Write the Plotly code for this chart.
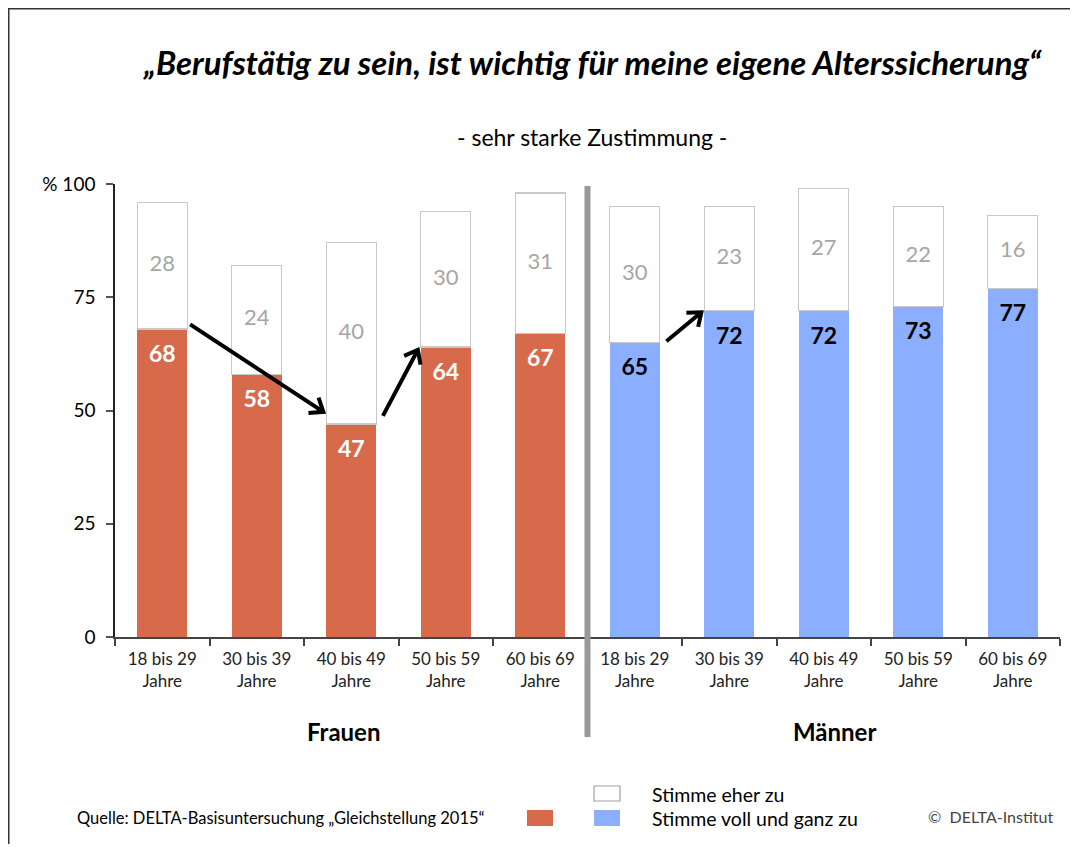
import math
import plotly.graph_objects as go

# ---------------- data ----------------
age_groups = ["18 bis 29<br>Jahre", "30 bis 39<br>Jahre", "40 bis 49<br>Jahre",
              "50 bis 59<br>Jahre", "60 bis 69<br>Jahre"]
frauen_voll = [68, 58, 47, 64, 67]
frauen_eher = [28, 24, 40, 30, 31]
maenner_voll = [65, 72, 72, 73, 77]
maenner_eher = [30, 23, 27, 22, 16]
y_tick_vals = [0, 25, 50, 75, 100]
y_tick_text = ["0", "25", "50", "75", "% 100"]

title_text = "„Berufstätig zu sein, ist wichtig für meine eigene Alterssicherung“"
subtitle_text = "- sehr starke Zustimmung -"
source_text = "Quelle: DELTA-Basisuntersuchung „Gleichstellung 2015“"
copyright_text = "©  DELTA-Institut"
legend_eher = "Stimme eher zu"
legend_voll = "Stimme voll und ganz zu"

# ---------------- styling ----------------
RED = "#D86A4C"
BLUE = "#8CAEFF"
FONT = "Lato"
OFF = 8                      # page body margin
W, H = 1062, 836
# plot area in screen pixels
SX0, SX1, SY0, SY1 = 115, 1060, 184, 637
ML = SX0 - OFF
MR = W - (SX1 - OFF)
MT = SY0 - OFF
MB = H - (SY1 - OFF)
PW, PH = SX1 - SX0, SY1 - SY0

labels = age_groups + age_groups
voll = frauen_voll + maenner_voll
eher = frauen_eher + maenner_eher
xs = list(range(len(labels)))
colors = [RED] * len(frauen_voll) + [BLUE] * len(maenner_voll)
bw = 0.53
Y_MAX = 100


def px(x):  # screen pixel x -> paper
    return (x - SX0) / PW


def py(y):  # screen pixel y -> paper
    return (SY1 - y) / PH


def data_to_screen(x, y):
    return SX0 + (x + 0.5) * PW / len(labels), SY1 - y * PH / Y_MAX


fig = go.Figure()
fig.add_trace(go.Bar(x=xs, y=voll, width=bw, marker=dict(color=colors, line=dict(width=0)),
                     hoverinfo="skip", showlegend=False))
fig.add_trace(go.Bar(x=xs, y=eher, base=voll, width=bw,
                     marker=dict(color="white", line=dict(color="#C8C8C8", width=1.2)),
                     hoverinfo="skip", showlegend=False))

# value labels
fig.add_trace(go.Scatter(x=xs, y=[v - 6 for v in voll], mode="text",
                         text=[f"<b>{v}</b>" for v in voll],
                         textfont=dict(family=FONT, size=23,
                                       color=["white"] * len(frauen_voll) + ["black"] * len(maenner_voll)),
                         hoverinfo="skip", showlegend=False, cliponaxis=False))
fig.add_trace(go.Scatter(x=xs, y=[v + e / 2 for v, e in zip(voll, eher)], mode="text",
                         text=[str(e) for e in eher],
                         textfont=dict(family=FONT, size=22, color="#A6A6A6"),
                         hoverinfo="skip", showlegend=False, cliponaxis=False))

shapes = []

# arrows with open chevron heads (positions derived from bars)
half = bw / 2
arrows = [
    ((0 + half + 0.03, voll[0] + 1), (2 - half - 0.03, voll[2] + 2.7)),
    ((2 + half + 0.07, voll[2] + 1.8), (3 - half - 0.03, voll[3] - 0.6)),
    ((5 + half + 0.07, voll[5] + 0.3), (6 - half - 0.03, voll[6] - 0.3)),
]
HEAD_LEN, HEAD_ANG = 15, math.radians(38)
for (tx, ty), (hx, hy) in arrows:
    x0, y0 = data_to_screen(tx, ty)
    x1, y1 = data_to_screen(hx, hy)
    ang = math.atan2(y0 - y1, x0 - x1)
    ax_ = x1 + HEAD_LEN * math.cos(ang + HEAD_ANG)
    ay_ = y1 + HEAD_LEN * math.sin(ang + HEAD_ANG)
    bx_ = x1 + HEAD_LEN * math.cos(ang - HEAD_ANG)
    by_ = y1 + HEAD_LEN * math.sin(ang - HEAD_ANG)
    path = (f"M {px(x0)},{py(y0)} L {px(x1)},{py(y1)} "
            f"M {px(ax_)},{py(ay_)} L {px(x1)},{py(y1)} L {px(bx_)},{py(by_)}")
    shapes.append(dict(type="path", xref="paper", yref="paper", path=path,
                       line=dict(color="black", width=4), layer="above"))

# divider between groups
shapes.append(dict(type="line", xref="x", yref="paper", x0=4.5, x1=4.5, y0=py(737), y1=py(186),
                   line=dict(color="#999999", width=6)))
# outer frame (left and top edges)
shapes.append(dict(type="line", xref="paper", yref="paper", x0=px(OFF + 0.5), x1=px(OFF + 0.5),
                   y0=py(OFF + H), y1=py(OFF - 0.5), line=dict(color="#333333", width=2)))
shapes.append(dict(type="line", xref="paper", yref="paper", x0=px(OFF - 0.5), x1=px(OFF + W),
                   y0=py(OFF + 0.5), y1=py(OFF + 0.5), line=dict(color="#333333", width=2)))
# legend swatches
shapes.append(dict(type="rect", xref="paper", yref="paper", x0=px(594), x1=px(620), y0=py(801), y1=py(786),
                   line=dict(color="#A0A0A0", width=1.2), fillcolor="white"))
shapes.append(dict(type="rect", xref="paper", yref="paper", x0=px(527), x1=px(553), y0=py(826), y1=py(810),
                   line=dict(width=0), fillcolor=RED))
shapes.append(dict(type="rect", xref="paper", yref="paper", x0=px(594), x1=px(620), y0=py(826), y1=py(810),
                   line=dict(width=0), fillcolor=BLUE))

ann = [
    dict(text=f"<b><i>{title_text}</i></b>", x=px(592), y=py(62), font=dict(size=33)),
    dict(text=subtitle_text, x=px(592), y=py(137), font=dict(size=23)),
    dict(text="<b>Frauen</b>", x=px(343), y=py(731), font=dict(size=24)),
    dict(text="<b>Männer</b>", x=px(834), y=py(731), font=dict(size=24)),
    dict(text=source_text, x=px(75), y=py(818), xanchor="left", font=dict(size=16.5)),
    dict(text=legend_eher, x=px(650), y=py(794), xanchor="left", font=dict(size=19.5)),
    dict(text=legend_voll, x=px(650), y=py(818), xanchor="left", font=dict(size=19.5)),
    dict(text=copyright_text, x=px(1055), y=py(816), xanchor="right", font=dict(size=16, color="#444444")),
]
for a in ann:
    a.setdefault("xanchor", "center")
    f = a["font"]
    f.setdefault("family", FONT)
    f.setdefault("color", "black")
    fig.add_annotation(xref="paper", yref="paper", yanchor="middle", showarrow=False, **a)

fig.update_layout(
    width=W, height=H, autosize=False,
    margin=dict(l=ML, r=MR, t=MT, b=MB),
    paper_bgcolor="white", plot_bgcolor="white",
    barmode="stack", shapes=shapes,
    font=dict(family=FONT, color="black"),
    xaxis=dict(range=[-0.5, len(labels) - 0.5], tickmode="array", tickvals=xs, ticktext=labels,
               ticks="", showline=True, linecolor="#444444", linewidth=1.5, ticklabelstandoff=6,
               tickfont=dict(size=17, color="#222222"), showgrid=False, zeroline=False, fixedrange=True,
               minor=dict(tickmode="linear", tick0=-0.5, dtick=1, ticks="outside", ticklen=7,
                          tickcolor="#444444", tickwidth=1.5, showgrid=False)),
    yaxis=dict(range=[0, Y_MAX], tickmode="array", tickvals=y_tick_vals, ticktext=y_tick_text,
               ticks="outside", ticklen=7, tickcolor="#555555", tickwidth=1.5, ticklabelstandoff=7,
               showline=True, linecolor="#222222", linewidth=1.5, showgrid=False, zeroline=False,
               tickfont=dict(size=19, color="black"), fixedrange=True),
)

fig.write_html("out.html")
